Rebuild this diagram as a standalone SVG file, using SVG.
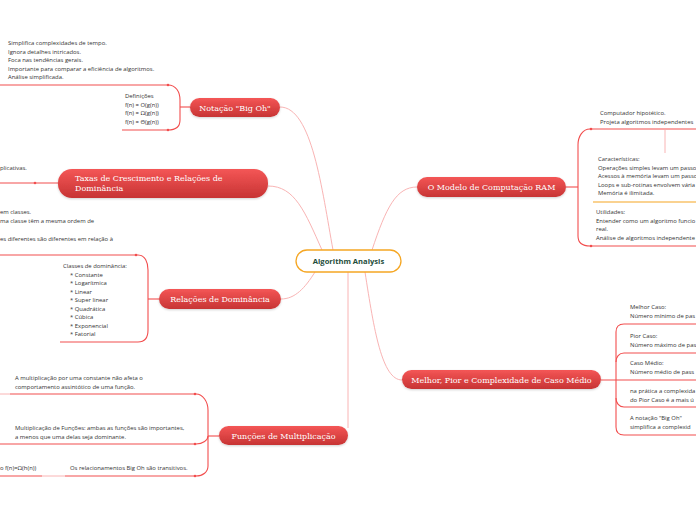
<svg xmlns="http://www.w3.org/2000/svg" width="696" height="520" viewBox="0 0 696 520">
<defs>
<linearGradient id="red" x1="0" y1="0" x2="0" y2="1">
<stop offset="0" stop-color="#f45656"/>
<stop offset="1" stop-color="#c73434"/>
</linearGradient>
<filter id="sh" x="-10%" y="-30%" width="120%" height="170%">
<feDropShadow dx="0" dy="1" stdDeviation="0.8" flood-color="#000" flood-opacity="0.18"/>
</filter>
</defs>
<style>
.main rect{fill:url(#red);filter:url(#sh)}
.main text{font-family:"DejaVu Serif","Liberation Serif",serif;font-size:8px;fill:#fff}
.t{font-family:"Open Sans","Liberation Sans",sans-serif;font-size:5.9px;fill:#333}
.br{fill:none;stroke:#f24e4e;stroke-width:1.1}
.lt{fill:none;stroke:#f9b4b4;stroke-width:1}
.dot{fill:#f24e4e}
</style>
<rect width="696" height="520" fill="#fff"/>

<g id="connectors">
<path class="lt" d="M333,250 C322,190 312,107 280,107"/>
<path class="lt" d="M322,250 C305,212 295,186 268,186"/>
<path class="lt" d="M315,272 C305,288 295,299 281,299"/>
<path class="lt" d="M348,272 L348,428"/>
<path class="lt" d="M372,250 C386,208 396,187 417,187"/>
<path class="lt" d="M365,272 C374,330 382,380 402,380"/>
<path class="lt" d="M665,130 L665,153"/>
<path class="lt" d="M42,476 L65,476"/>

<path class="br" d="M190,107 L180,107"/>
<path class="br" d="M0,85 L168,85 C176,85 180,92 180,100 L180,120 C180,127 176,130 168,130 L122,130"/>
<circle class="dot" cx="168" cy="85" r="1.3"/>
<circle class="dot" cx="168" cy="130" r="1.3"/>

<path class="br" d="M0,183 L58,183"/>
<circle class="dot" cx="35" cy="183" r="1.3"/>

<path class="br" d="M159,299 L148,299"/>
<path class="br" d="M0,255 L138,255 C145,255 148,262 148,270 L148,330 C148,338 145,342 138,342 L60,342"/>
<circle class="dot" cx="136" cy="255" r="1.3"/>

<path class="br" d="M219,436 L208,436"/>
<path class="br" d="M10,394 L196,394 C203,394 208,402 208,410 L208,466 C208,472 203,476 196,476 L65,476"/>
<path class="lt" d="M0,394 L10,394"/>
<path class="br" d="M0,444 L196,444 C203,444 208,440 208,436"/>
<path class="br" d="M0,476 L42,476"/>
<circle class="dot" cx="195" cy="394" r="1.3"/>
<circle class="dot" cx="195" cy="444" r="1.3"/>
<circle class="dot" cx="195" cy="476" r="1.3"/>

<path class="br" d="M566,187 L578,187"/>
<path class="br" d="M696,129 L590,129 C583,129 578,136 578,145 L578,236 C578,243 583,246 590,246 L696,246"/>
<path fill="none" stroke="#f5a623" stroke-width="1.1" d="M593,202 L696,202"/>
<circle class="dot" cx="591" cy="129" r="1.3"/>
<circle class="dot" cx="591" cy="246" r="1.3"/>

<path class="br" d="M601,380 L696,380"/>
<path class="br" d="M616,380 L616,332 C616,327 619,324 624,324 L696,324"/>
<path class="br" d="M616,362 C616,357 619,353 624,353 L696,353"/>
<path class="br" d="M616,380 L616,427 C616,432 619,435 624,435 L696,435"/>
<path class="br" d="M616,398 C616,403 619,407 624,407 L696,407"/>
</g>

<g id="center">
<rect x="296" y="250" width="105" height="22" rx="11" fill="#fff" stroke="#f5a623" stroke-width="1.3"/>
<text x="348.5" y="264" text-anchor="middle" font-family="'Open Sans','Liberation Sans',sans-serif" font-size="7.6" font-weight="bold" fill="#1e4d3b">Algorithm Analysis</text>
</g>

<g id="n-bigoh" class="main">
<rect x="190" y="98" width="90" height="19" rx="9.5"/>
<text x="235" y="110.5" text-anchor="middle">Notação "Big Oh"</text>
</g>
<g id="n-taxas" class="main">
<rect x="58" y="169" width="210" height="29" rx="14"/>
<text x="75" y="181">Taxas de Crescimento e Relações de</text>
<text x="75" y="191">Dominância</text>
</g>
<g id="n-relacoes" class="main">
<rect x="159" y="289" width="122" height="20" rx="10"/>
<text x="220" y="302" text-anchor="middle">Relações de Dominância</text>
</g>
<g id="n-funcoes" class="main">
<rect x="219" y="426" width="129" height="19" rx="9.5"/>
<text x="283.5" y="438.5" text-anchor="middle">Funções de Multiplicação</text>
</g>
<g id="n-ram" class="main">
<rect x="417" y="177" width="149" height="20" rx="10"/>
<text x="491.5" y="190" text-anchor="middle">O Modelo de Computação RAM</text>
</g>
<g id="n-casos" class="main">
<rect x="402" y="370" width="199" height="19" rx="9.5"/>
<text x="501.5" y="382.5" text-anchor="middle">Melhor, Pior e Complexidade de Caso Médio</text>
</g>

<g id="t-bigoh-1" class="t">
<text x="8" y="45">Simplifica complexidades de tempo.</text>
<text x="8" y="53.5">Ignora detalhes intricados.</text>
<text x="8" y="62">Foca nas tendências gerais.</text>
<text x="8" y="70.5">Importante para comparar a eficiência de algoritmos.</text>
<text x="8" y="79">Análise simplificada.</text>
</g>
<g id="t-bigoh-2" class="t">
<text x="125" y="98">Definições</text>
<text x="125" y="106.5">f(n) = O(g(n))</text>
<text x="125" y="115">f(n) = Ω(g(n))</text>
<text x="125" y="123.5">f(n) = Θ(g(n))</text>
</g>
<g id="t-taxas" class="t">
<text x="0" y="170">plicativas.</text>
</g>
<g id="t-rel-1" class="t">
<text x="0" y="214">em classes.</text>
<text x="0" y="223">ma classe têm a mesma ordem de</text>
<text x="0" y="241">es diferentes são diferentes em relação à</text>
</g>
<g id="t-rel-2" class="t">
<text x="63" y="268">Classes de dominância:</text>
<text x="70" y="276.5">* Constante</text>
<text x="70" y="285">* Logarítmica</text>
<text x="70" y="293.5">* Linear</text>
<text x="70" y="302">* Super linear</text>
<text x="70" y="310.5">* Quadrática</text>
<text x="70" y="319">* Cúbica</text>
<text x="70" y="327.5">* Exponencial</text>
<text x="70" y="336">* Fatorial</text>
</g>
<g id="t-fun-1" class="t">
<text x="15" y="380">A multiplicação por uma constante não afeta o</text>
<text x="15" y="389">comportamento assintótico de uma função.</text>
</g>
<g id="t-fun-2" class="t">
<text x="15" y="430">Multiplicação de Funções: ambas as funções são importantes,</text>
<text x="15" y="439">a menos que uma delas seja dominante.</text>
</g>
<g id="t-fun-3" class="t">
<text x="70" y="470">Os relacionamentos Big Oh são transitivos.</text>
</g>
<g id="t-fun-4" class="t">
<text x="0" y="470">o f(n)=Ω(h(n))</text>
</g>
<g id="t-ram-1" class="t">
<text x="600" y="115">Computador hipotético.</text>
<text x="600" y="123.5">Projeta algoritmos independentes</text>
</g>
<g id="t-ram-2" class="t">
<text x="598" y="161">Características:</text>
<text x="598" y="169.5">Operações simples levam um passo</text>
<text x="598" y="178">Acessos à memória levam um passo</text>
<text x="598" y="186.5">Loops e sub-rotinas envolvem vária</text>
<text x="598" y="195">Memória é ilimitada.</text>
</g>
<g id="t-ram-3" class="t">
<text x="596" y="214">Utilidades:</text>
<text x="596" y="222.5">Entender como um algoritmo funcio</text>
<text x="596" y="231">real.</text>
<text x="596" y="239.5">Análise de algoritmos independente</text>
</g>
<g id="t-casos-1" class="t">
<text x="630" y="309">Melhor Caso:</text>
<text x="630" y="318">Número mínimo de pas</text>
</g>
<g id="t-casos-2" class="t">
<text x="630" y="338">Pior Caso:</text>
<text x="630" y="347">Número máximo de pas</text>
</g>
<g id="t-casos-3" class="t">
<text x="630" y="365">Caso Médio:</text>
<text x="630" y="374">Número médio de pass</text>
</g>
<g id="t-casos-4" class="t">
<text x="630" y="393">na prática a complexida</text>
<text x="630" y="402">do Pior Caso é a mais ú</text>
</g>
<g id="t-casos-5" class="t">
<text x="630" y="420">A notação "Big Oh"</text>
<text x="630" y="429"> simplifica  a complexid</text>
</g>
</svg>
